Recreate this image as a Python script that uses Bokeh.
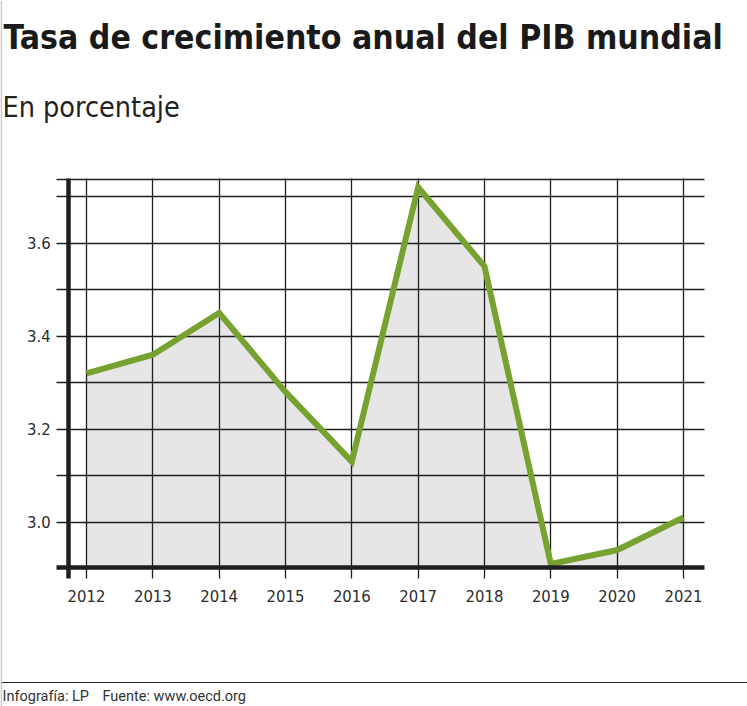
from bokeh.plotting import figure
from bokeh.models import Range1d, FixedTicker, Span, Label, PrintfTickFormatter
from bokeh.embed import file_html
from bokeh.resources import INLINE

# ---- data ----
years = [2012, 2013, 2014, 2015, 2016, 2017, 2018, 2019, 2020, 2021]
growth = [3.32, 3.36, 3.45, 3.28, 3.13, 3.72, 3.55, 2.91, 2.94, 3.01]
y_labeled_ticks = [3.0, 3.2, 3.4, 3.6]
y_grid_ticks = [3.0, 3.1, 3.2, 3.3, 3.4, 3.5, 3.6, 3.7, 3.7376]
title_text = "Tasa de crecimiento anual del PIB mundial"
subtitle_text = "En porcentaje"
credit_text = "Infografía: LP"
source_text = "Fuente: www.oecd.org"

# ---- layout constants ----
W, H = 747, 706
FL, FR, FT, FB = 56, 704, 178, 578          # chart area edges in page pixels
COND = "DejaVu Sans Condensed"
axis_x = 2011.73      # thick vertical axis
axis_floor = 2.9032   # thick horizontal axis
x_lo, x_hi = 2011.5477, 2021.317            # data values at FL / FR
y_hi, y_lo = 3.739, 2.8788                  # data values at FT / FB
GREEN = "#77a22f"
INK = "#1e1e1e"


def sx(px):
    return x_lo + (px - FL) * (x_hi - x_lo) / (FR - FL)


def sy(py):
    return y_hi - (py - FT) * (y_hi - y_lo) / (FB - FT)


p = figure(width=W, height=H, x_range=Range1d(sx(0), sx(W)), y_range=Range1d(sy(H), sy(0)),
           output_backend="svg", toolbar_location=None, min_border=0)
p.outline_line_color = None
p.background_fill_color = "white"

p.varea(x=years, y1=[axis_floor] * len(years), y2=growth, fill_color="#e6e6e6", level="image")

p.xgrid.ticker = FixedTicker(ticks=years)
p.ygrid.ticker = FixedTicker(ticks=y_grid_ticks)
p.xgrid.cross_bounds = (sy(FB), sy(FT))
p.ygrid.cross_bounds = (sx(FL), sx(FR))
p.xgrid.bounds = (sx(FL), sx(FR))
p.ygrid.bounds = (sy(FB), sy(FT) + 0.001)
for g in (p.xgrid, p.ygrid):
    g.grid_line_color = INK
    g.grid_line_width = 1.3
    g.grid_line_alpha = 1.0

p.line(x=years, y=growth, line_color=GREEN, line_width=6, line_join="miter")

# axes drawn at their own data positions
p.xaxis.fixed_location = axis_floor
p.yaxis.fixed_location = axis_x
p.xaxis.bounds = (sx(FL), sx(FR))
p.yaxis.bounds = (sy(FB), sy(FT))
p.xaxis.ticker = FixedTicker(ticks=years)
p.xaxis.formatter = PrintfTickFormatter(format="%d")
p.yaxis.ticker = FixedTicker(ticks=y_labeled_ticks)
p.yaxis.formatter = PrintfTickFormatter(format="%.1f")
for ax in (p.xaxis, p.yaxis):
    ax.axis_line_color = INK
    ax.axis_line_width = 4.5
    ax.major_tick_line_color = None
    ax.minor_tick_line_color = None
    ax.major_tick_in = 0
    ax.major_tick_out = 0
    ax.major_label_text_font = COND
    ax.major_label_text_font_size = "16.5px"
    ax.major_label_text_color = "#2b2b2b"
p.xaxis.major_label_standoff = 23
p.yaxis.major_label_standoff = 18

# ---- titles ----
p.add_layout(Label(x=sx(3), y=sy(37), text=title_text, text_font=COND,
                   text_font_style="bold", text_font_size="33.5px",
                   text_color="#1a1a1a", text_baseline="alphabetic"))
p.add_layout(Label(x=sx(2), y=sy(107), text=subtitle_text, text_font=COND,
                   text_font_size="28.5px", text_color="#222222",
                   text_baseline="alphabetic"))

# ---- footer ----
p.add_layout(Span(location=sy(682), dimension="width", line_color="#222222", line_width=1.2))
p.add_layout(Span(location=sx(0.8), dimension="height", line_color="#c8c8c8", line_width=1.6))
p.add_layout(Label(x=sx(2), y=sy(696), text=credit_text, text_font="Roboto",
                   text_font_size="14.5px", text_color="#333333",
                   text_baseline="alphabetic"))
p.add_layout(Label(x=sx(102), y=sy(696), text=source_text, text_font="Roboto",
                   text_font_size="14.5px", text_color="#333333",
                   text_baseline="alphabetic"))

open("out.html", "w").write(file_html(p, INLINE))
